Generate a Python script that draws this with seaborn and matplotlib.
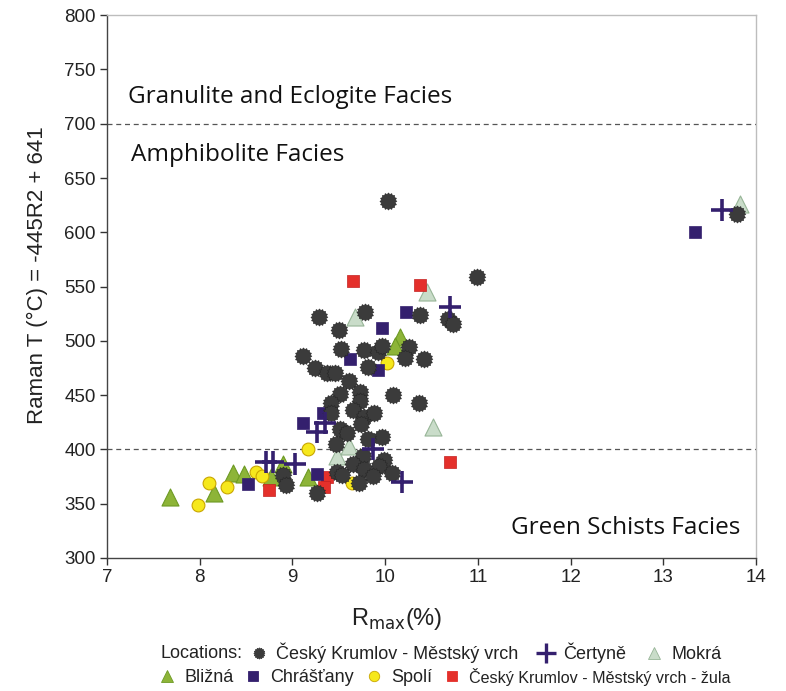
import numpy as np
import pandas as pd
import matplotlib
matplotlib.use("Agg")
import matplotlib.pyplot as plt
from matplotlib.lines import Line2D
import seaborn as sns

sns.set_theme(style="white")
plt.rcParams['font.family'] = ['Liberation Sans', 'DejaVu Sans']

# ---------------- data ----------------
krumlov_x = [10.03, 10.99, 13.79, 9.29, 9.78, 10.38, 10.68, 10.73, 9.50, 9.11, 9.52, 9.77, 9.92, 9.97,
             10.26, 10.21, 10.42, 9.24, 9.37, 9.46, 9.81, 9.61, 9.51, 9.73, 9.73, 9.42, 10.09, 10.36,
             9.65, 9.42, 9.77, 9.88, 9.74, 9.51, 9.59, 9.97, 9.82, 9.47, 9.76, 9.99, 9.93, 9.65, 9.77,
             9.48, 9.54, 9.87, 10.07, 9.72, 9.26, 8.90, 8.93]
krumlov_y = [628.7, 559.0, 616.5, 522.0, 526.5, 523.8, 519.8, 515.5, 510.0, 486.0, 492.5, 491.5, 490.0, 495.0,
             494.0, 484.4, 483.5, 474.7, 470.0, 470.0, 475.6, 463.3, 451.0, 453.0, 444.8, 443.0, 450.0, 443.0,
             436.3, 433.8, 429.6, 433.2, 423.4, 418.5, 415.5, 411.8, 409.3, 405.0, 393.9, 390.2, 384.7, 386.6, 381.7,
             379.5, 376.4, 375.5, 378.0, 369.3, 359.6, 376.4, 367.2]

certyne_x = [13.63, 10.70, 9.35, 9.26, 9.87, 10.18, 8.72, 8.79, 9.03]
certyne_y = [621.0, 530.9, 424.0, 416.3, 400.1, 370.3, 388.0, 388.0, 387.0]

mokra_x = [13.83, 10.45, 9.68, 10.52, 9.61, 9.48]
mokra_y = [626.0, 544.7, 521.6, 420.9, 403.1, 393.9]

blizna_x = [10.16, 10.11, 7.68, 8.15, 8.36, 8.48, 8.77, 8.90, 9.17]
blizna_y = [503.8, 495.2, 356.5, 360.1, 378.6, 377.4, 374.9, 386.6, 374.9]

chrastany_x = [13.34, 10.22, 9.97, 9.62, 9.92, 9.33, 9.11, 9.27, 8.52]
chrastany_y = [600.5, 526.2, 512.0, 483.0, 473.1, 433.8, 424.6, 377.4, 367.9]

spoli_x = [10.02, 9.17, 9.64, 7.98, 8.10, 8.30, 8.61, 8.67]
spoli_y = [479.8, 400.1, 369.3, 348.8, 368.8, 365.7, 379.5, 375.5]

zula_x = [9.65, 10.38, 10.70, 9.37, 9.34, 8.75]
zula_y = [555.3, 551.4, 388.1, 374.9, 365.1, 362.6]

labels = ["Český Krumlov - Městský vrch", "Čertyně", "Mokrá",
          "Bližná", "Chrášťany", "Spolí", "Český Krumlov - Městský vrch - žula"]

x_ticks = [7, 8, 9, 10, 11, 12, 13, 14]
y_ticks = [300, 350, 400, 450, 500, 550, 600, 650, 700, 750, 800]
facies_lines = [700, 400]

# ---------------- styling ----------------
n_teeth = 16
ang = np.linspace(0, 2 * np.pi, 2 * n_teeth, endpoint=False)
rad = np.where(np.arange(2 * n_teeth) % 2 == 0, 1.0, 0.82)
gear = list(zip(rad * np.cos(ang), rad * np.sin(ang)))

c_gear = "#3b3b3b"
c_purple = "#34206e"
c_mokra = "#c9dcc9"
c_mokra_e = "#97b597"
c_blizna = "#8db438"
c_blizna_e = "#6d9a24"
c_yellow = "#f6e81c"
c_yellow_e = "#c9a600"
c_red = "#e4302b"

fig = plt.figure(figsize=(7.86, 6.91), dpi=100)
ax = fig.add_axes([0.136, 0.1925, 0.826, 0.7855])

ax.set_xlim(7, 14)
ax.set_ylim(300, 800)

for yv in facies_lines:
    ax.axhline(yv, color="#555555", lw=0.9, ls=(0, (4, 3)), zorder=1)

sns.scatterplot(x=mokra_x, y=mokra_y, marker="^", s=150, color=c_mokra,
                edgecolor=c_mokra_e, linewidth=0.8, ax=ax, zorder=3)
sns.scatterplot(x=blizna_x, y=blizna_y, marker="^", s=150, color=c_blizna,
                edgecolor=c_blizna_e, linewidth=0.8, ax=ax, zorder=3)
sns.scatterplot(x=spoli_x, y=spoli_y, marker="o", s=85, color=c_yellow,
                edgecolor=c_yellow_e, linewidth=0.8, ax=ax, zorder=3)
sns.scatterplot(x=zula_x, y=zula_y, marker="s", s=70, color=c_red,
                edgecolor="#c42020", linewidth=0.5, ax=ax, zorder=3)
sns.scatterplot(x=chrastany_x, y=chrastany_y, marker="s", s=70, color=c_purple,
                edgecolor=c_purple, linewidth=0.5, ax=ax, zorder=3)
sns.scatterplot(x=krumlov_x, y=krumlov_y, marker=gear, s=150, color=c_gear,
                edgecolor="#2a2a2a", linewidth=0.5, ax=ax, zorder=4)
sns.scatterplot(x=certyne_x, y=certyne_y, marker="+", s=230, color=c_purple,
                linewidth=2.6, ax=ax, zorder=5)

# facies labels
tfont = dict(family=["Open Sans", "DejaVu Sans"], fontsize=17.5, color="#111111")
ax.text(7.23, 724.5, "Granulite and Eclogite Facies", va="center", ha="left", **tfont)
ax.text(7.26, 671, "Amphibolite Facies", va="center", ha="left", **tfont)
ax.text(13.83, 327.5, "Green Schists Facies", va="center", ha="right", **tfont)

ax.set_xticks(x_ticks)
ax.set_yticks(y_ticks)
ax.tick_params(axis="both", labelsize=13.5, colors="#333333", length=5, width=1,
               direction="out", left=True, bottom=True, pad=3)
for lab in ax.get_xticklabels() + ax.get_yticklabels():
    lab.set_color("#222222")

for s in ["left", "bottom"]:
    ax.spines[s].set_color("#444444")
    ax.spines[s].set_linewidth(1.0)
for s in ["top", "right"]:
    ax.spines[s].set_color("#bdbdbd")
    ax.spines[s].set_linewidth(1.0)

ax.set_xlabel(r"R$_{\mathrm{max}}$(%)", fontsize=17, color="#222222")
ax.xaxis.set_label_coords(0.447, -0.088)
ax.set_ylabel("Raman T (°C) = -445R2 + 641", fontsize=16, color="#222222")
ax.yaxis.set_label_coords(-0.091, 0.521)

# legend
def h(marker, color, edge, ms, mew=0.6):
    return Line2D([], [], ls="none", marker=marker, markersize=ms, markerfacecolor=color,
                  markeredgecolor=edge, markeredgewidth=mew, color=color)

handles_row1 = [h(gear, c_gear, c_gear, 8),
                Line2D([], [], ls="none", marker="+", markersize=14, color=c_purple, markeredgewidth=2.4),
                h("^", c_mokra, c_mokra_e, 9)]
handles_row2 = [h("^", c_blizna, c_blizna_e, 9),
                h("s", c_purple, c_purple, 6.5),
                h("o", c_yellow, c_yellow_e, 7.5),
                h("s", c_red, c_red, 6.5)]

fig.text(160 / 786, 1 - 653 / 691, "Locations:", fontsize=13, va="center", ha="left", color="#222222")

leg1 = fig.legend(handles_row1, labels[:3], loc="center left",
                  bbox_to_anchor=(249 / 786, 1 - 653 / 691), ncol=3, frameon=False,
                  fontsize=13, handlelength=1.1, handletextpad=0.4, columnspacing=1.0,
                  borderpad=0, borderaxespad=0, labelcolor="#222222")
leg2 = fig.legend(handles_row2, labels[3:], loc="center left",
                  bbox_to_anchor=(157 / 786, 1 - 677 / 691), ncol=4, frameon=False,
                  fontsize=13, handlelength=1.1, handletextpad=0.4, columnspacing=0.55,
                  borderpad=0, borderaxespad=0, labelcolor="#222222")
leg2.get_texts()[3].set_fontsize(11.6)

fig.savefig("out.png", dpi=100)
